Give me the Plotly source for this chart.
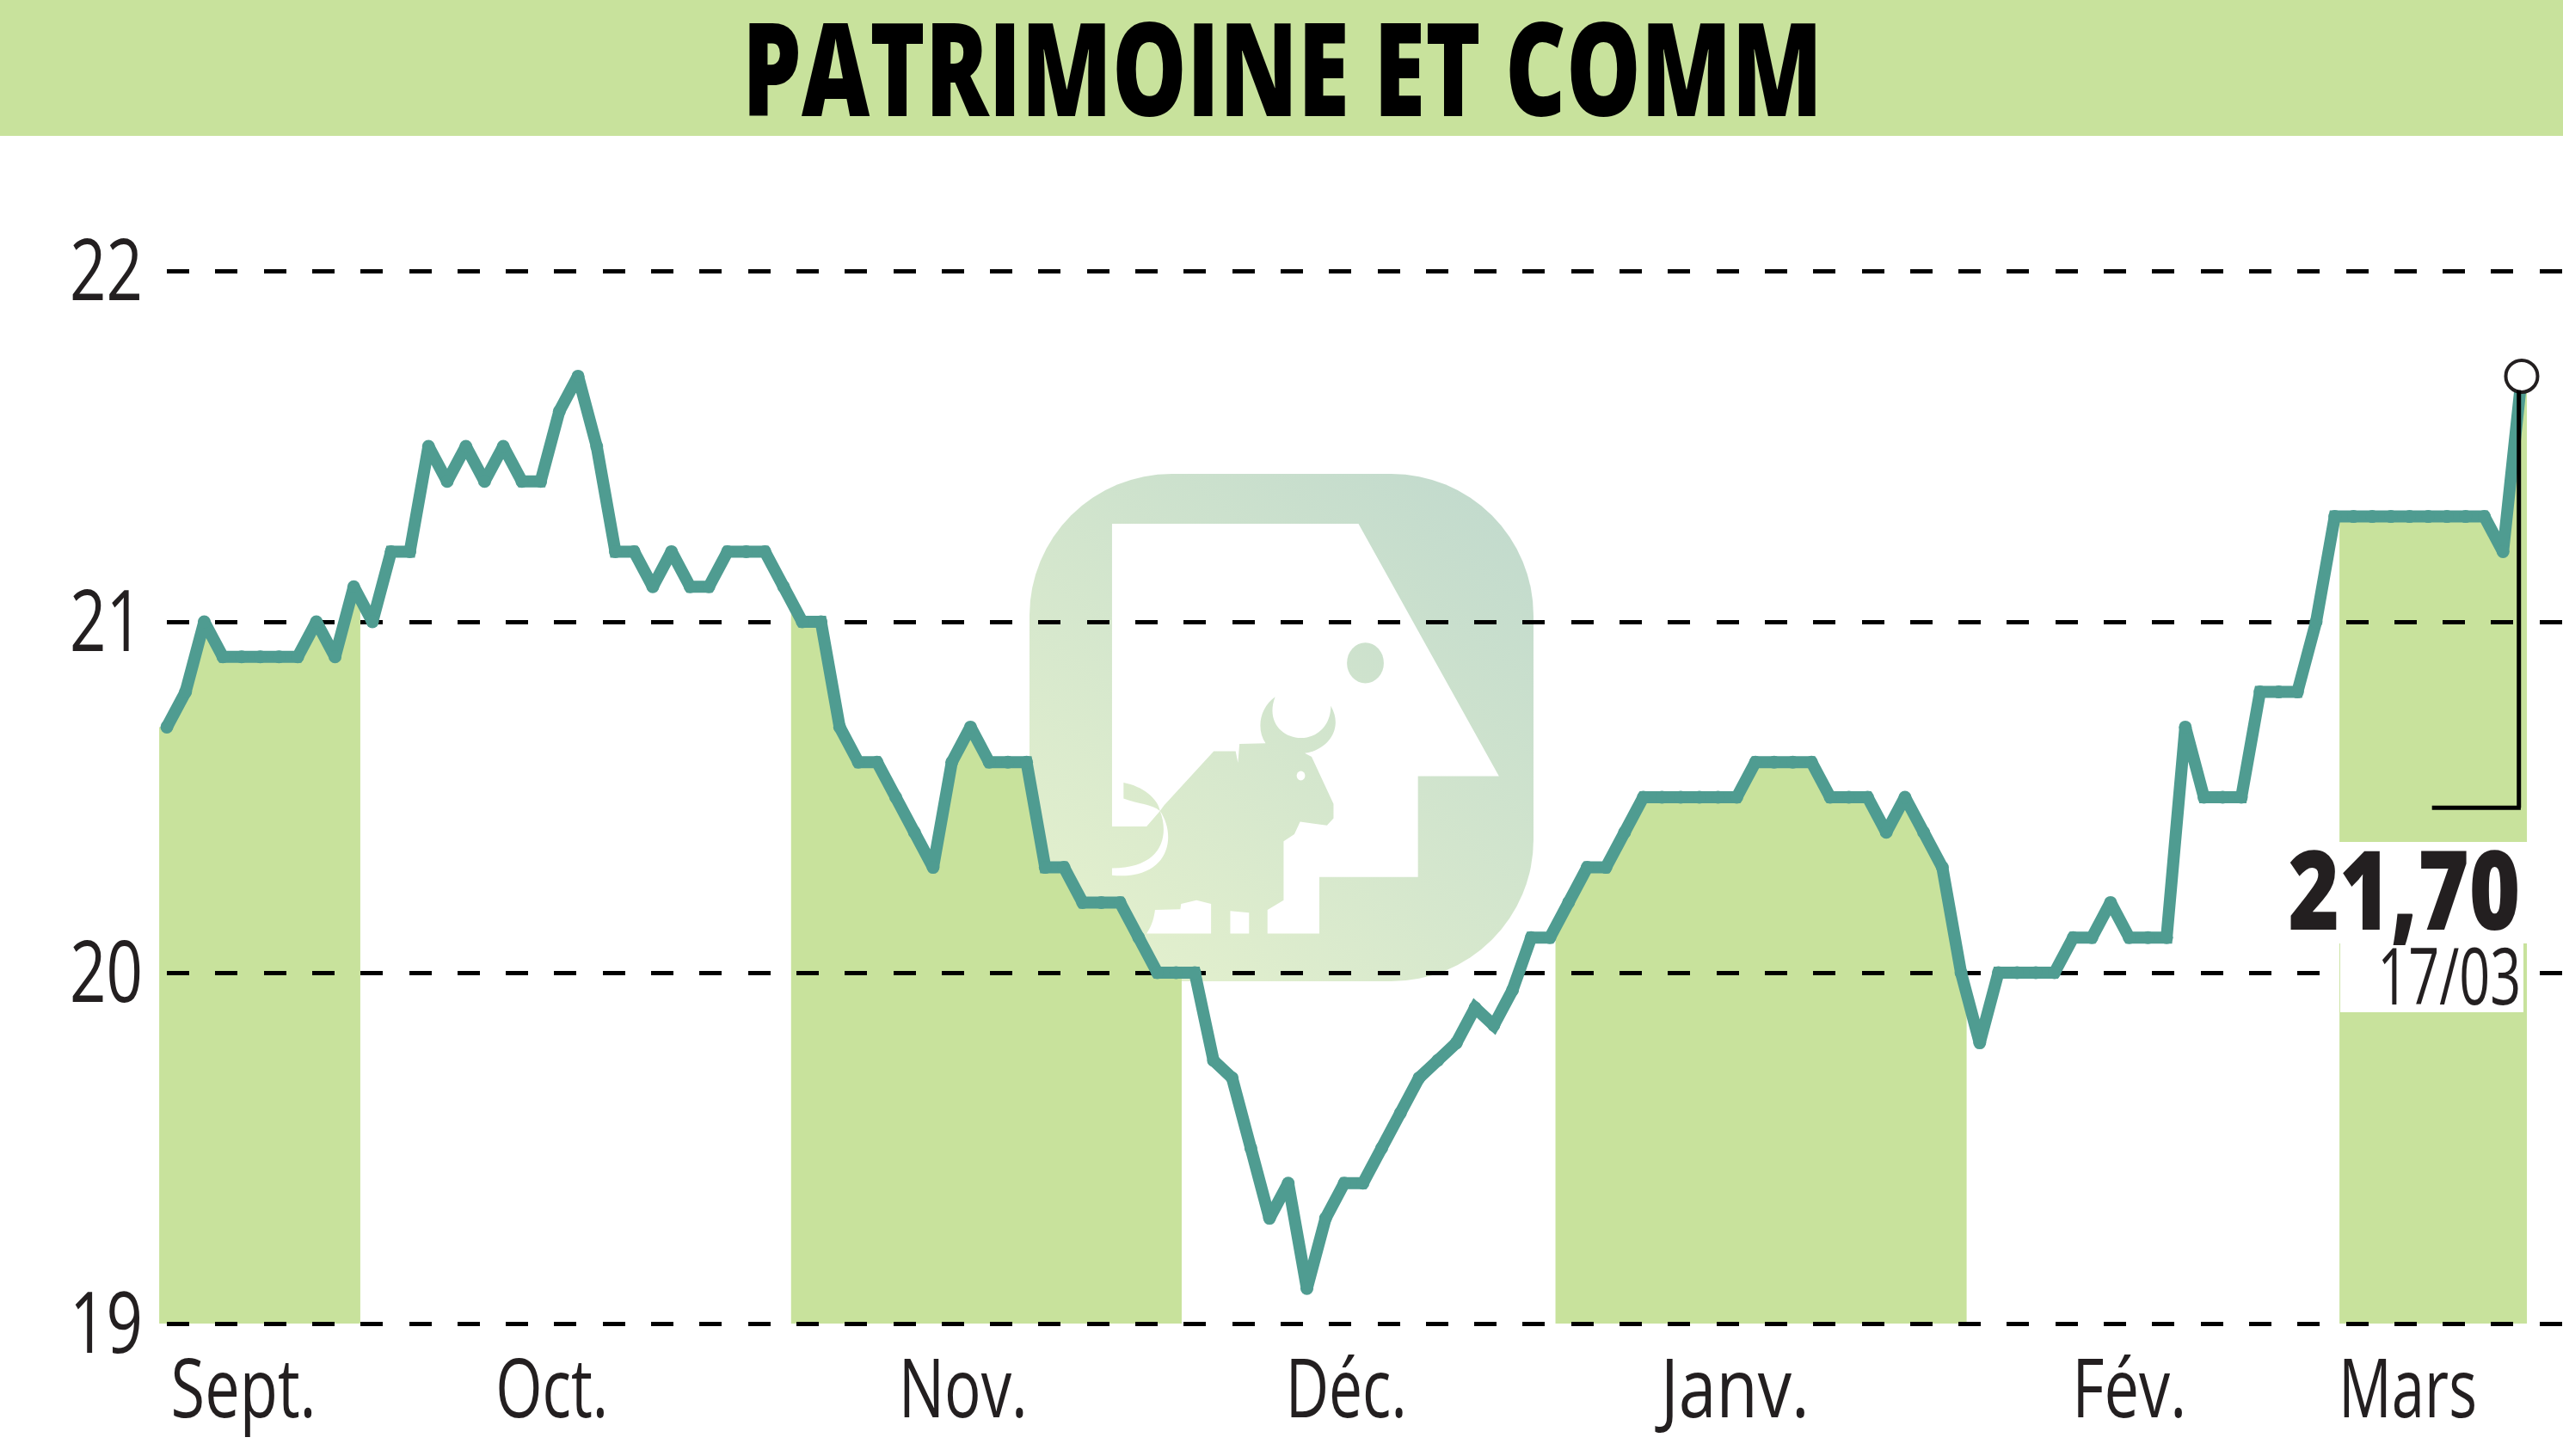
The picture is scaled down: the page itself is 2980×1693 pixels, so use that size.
import base64
import json
import numpy as np
import plotly.graph_objects as go

TITLE = "PATRIMOINE ET COMM"
PRICES = [20.7,20.8,21.0,20.9,20.9,20.9,20.9,20.9,21.0,20.9,21.1,21.0,21.2,21.2,21.5,21.4,21.5,21.4,21.5,21.4,
          21.4,21.6,21.7,21.5,21.2,21.2,21.1,21.2,21.1,21.1,21.2,21.2,21.2,21.1,21.0,21.0,20.7,20.6,20.6,20.5,
          20.4,20.3,20.6,20.7,20.6,20.6,20.6,20.3,20.3,20.2,20.2,20.2,20.1,20.0,20.0,20.0,19.75,19.7,19.5,19.3,
          19.4,19.1,19.3,19.4,19.4,19.5,19.6,19.7,19.75,19.8,19.9,19.85,19.95,20.1,20.1,20.2,20.3,20.3,20.4,20.5,
          20.5,20.5,20.5,20.5,20.5,20.6,20.6,20.6,20.6,20.5,20.5,20.5,20.4,20.5,20.4,20.3,20.0,19.8,20.0,20.0,
          20.0,20.0,20.1,20.1,20.2,20.1,20.1,20.1,20.7,20.5,20.5,20.5,20.8,20.8,20.8,21.0,21.3,21.3,21.3,21.3,
          21.3,21.3,21.3,21.3,21.3,21.2,21.7]
MONTHS = ["Sept.", "Oct.", "Nov.", "Déc.", "Janv.", "Fév.", "Mars"]
MONTH_POS = [4.1, 20.6, 42.6, 63.1, 83.9, 105.0, 119.9]
BANDS = [(-0.41, 10.35), (33.4, 54.3), (74.3, 96.3), (116.25, 126.28)]
Y_TICKS = [19, 20, 21, 22]
LAST_VALUE = "21,70"
LAST_DATE = "17/03"

# widths the condensed labels occupy in the reference
TEXT_WIDTHS = {TITLE: 1256, "Sept.": 169, "Oct.": 131, "Nov.": 150, "Déc.": 141, "Janv.": 173, "Fév.": 133,
               "Mars": 161, "19": 85, "20": 85, "21": 85, "22": 85, LAST_VALUE: 270, LAST_DATE: 167}

GREEN = "#c8e29c"
TEAL = "#4f9c91"
FONT = "Open Sans"
INK = "#231f20"

W, H = 2980, 1693
PL, PB = 185, 133           # plot area margins in px
DX = 21.73
X0PX = 194
plot_w, plot_h = W - PL, H - PB
xs = list(range(len(PRICES)))
x_range = [(PL - X0PX) / DX, (W - X0PX) / DX]
y_range = [22 + 315 / 408 - plot_h / 408, 22 + 315 / 408]


def px_x(p):
    return (p - PL) / plot_w


def px_y(p):
    return 1 - p / plot_h


def logo_uri():
    svg = f'''<svg xmlns="http://www.w3.org/2000/svg" width="586" height="590" viewBox="105 75 1313 1422" preserveAspectRatio="none">
<defs><linearGradient id="g" gradientUnits="userSpaceOnUse" x1="250" y1="1400" x2="1300" y2="180">
<stop offset="0" stop-color="#e3f0cd"/><stop offset="1" stop-color="#c3dbcd"/></linearGradient></defs>
<rect x="105" y="75" width="1313" height="1422" rx="370" ry="397" fill="url(#g)"/>
<path fill="#fff" d="M320 215 L962 215 L1328 922 L1117 922 L1117 1205 L860 1205 L860 1363 L725 1363 L725 1297 L767 1270 L767 1105
 L795 1085 L810 1050 L880 1060 L897 1040 L897 1000 L840 868 L822 858 C880 850 925 790 890 725 C890 780 855 815 812 815
 C765 815 720 770 745 700 C705 730 695 790 720 830 L652 832 L648 885 L642 852 L585 852 L455 1005 L445 1020 L410 1063 L320 1063 Z"/>
<path fill="url(#g)" d="M350 940 C400 950 440 985 445 1020 C425 1000 385 1000 350 985 Z"/>
<path fill="#fff" d="M445 1020 C470 1090 450 1180 320 1180 L320 1200 C470 1215 490 1090 445 1020 Z"/>
<ellipse cx="980" cy="605" rx="48" ry="57" fill="url(#g)"/>
<ellipse cx="812" cy="921" rx="11" ry="13" fill="#fff"/>
<path fill="#fff" d="M410 1363 C425 1340 430 1315 432 1297 L498 1295 L500 1280 L540 1270 L578 1280 L578 1363 Z"/>
<path fill="#fff" d="M628 1300 L677 1305 L677 1363 L628 1363 Z"/>
</svg>'''
    return "data:image/svg+xml;base64," + base64.b64encode(svg.encode()).decode()


def band_path(lo, hi):
    inner = [i for i in xs if lo < i < hi]
    bx = [lo] + inner + [hi]
    by = list(np.interp(bx, xs, PRICES))
    pts = [(lo, 19)] + list(zip(bx, by)) + [(hi, 19)]
    return "M" + " L".join(f"{a},{b}" for a, b in pts) + " Z"


shapes = [dict(type="rect", xref="paper", yref="paper", x0=px_x(0), x1=px_x(W), y0=px_y(158), y1=px_y(0),
               fillcolor=GREEN, line_width=0, layer="below")]
for lo, hi in BANDS:
    shapes.append(dict(type="path", path=band_path(lo, hi), xref="x", yref="y",
                       fillcolor=GREEN, line_width=0, layer="below"))
# white boxes behind the last-value labels
shapes.append(dict(type="rect", xref="paper", yref="paper", x0=px_x(2655), x1=px_x(2942), y0=px_y(1097), y1=px_y(979),
                   fillcolor="white", line_width=0, layer="above"))
shapes.append(dict(type="rect", xref="paper", yref="paper", x0=px_x(2721), x1=px_x(2934), y0=px_y(1177), y1=px_y(1097),
                   fillcolor="white", line_width=0, layer="above"))
# leader from last point to its label
shapes.append(dict(type="line", xref="x", yref="y", x0=125.85, x1=125.85, y0=21.66, y1=20.47,
                   line=dict(color="black", width=5), layer="above"))
shapes.append(dict(type="line", xref="x", yref="y", x0=121.2, x1=125.95, y0=20.47, y1=20.47,
                   line=dict(color="black", width=5), layer="above"))

fig = go.Figure()
fig.add_trace(go.Scatter(x=xs, y=PRICES, mode="lines+markers", line=dict(color=TEAL, width=14),
                         marker=dict(color=TEAL, size=15, symbol="circle"), hoverinfo="skip", cliponaxis=False))
fig.add_trace(go.Scatter(x=[xs[-1]], y=[PRICES[-1]], mode="markers",
                         marker=dict(color="white", size=37, line=dict(color=INK, width=4)),
                         hoverinfo="skip", cliponaxis=False))

fig.update_layout(
    width=W, height=H, margin=dict(l=PL, r=0, t=0, b=PB), showlegend=False,
    paper_bgcolor="white", plot_bgcolor="rgba(0,0,0,0)",
    title=dict(text=TITLE, x=1491 / W, xanchor="center", y=1 - 82 / H, yanchor="middle",
               font=dict(family=FONT, size=151, color="black", weight=800)),
    shapes=shapes,
    images=[dict(source=logo_uri(), xref="paper", yref="paper", x=px_x(1197), y=px_y(551),
                 sizex=586 / plot_w, sizey=590 / plot_h, xanchor="left", yanchor="top",
                 sizing="stretch", layer="below")],
    annotations=[
        dict(text=LAST_VALUE, xref="paper", yref="paper", x=px_x(2795), y=px_y(1031), xanchor="center",
             yanchor="middle", showarrow=False, font=dict(family=FONT, size=127, color=INK, weight=800)),
        dict(text=LAST_DATE, xref="paper", yref="paper", x=px_x(2848), y=px_y(1133), xanchor="center",
             yanchor="middle", showarrow=False, font=dict(family=FONT, size=91, color=INK)),
    ],
    xaxis=dict(range=x_range, showgrid=False, zeroline=False, showline=False, tickmode="array",
               tickvals=MONTH_POS, ticktext=MONTHS, ticks="", ticklabelstandoff=-8,
               tickfont=dict(family=FONT, size=95, color=INK)),
    yaxis=dict(range=y_range, showgrid=True, gridcolor="black", gridwidth=5,
               griddash="0px,9px,26px,21.3px", zeroline=False, showline=False, tickmode="array",
               tickvals=Y_TICKS, ticktext=[str(v) for v in Y_TICKS], ticks="", ticklabelstandoff=18,
               tickfont=dict(family=FONT, size=98, color=INK)),
)

condense = """
document.body.style.margin = '0';
var widths = %s;
document.querySelectorAll('svg text').forEach(function (t) {
  var w = widths[t.textContent];
  if (w) { t.setAttribute('textLength', w); t.setAttribute('lengthAdjust', 'spacingAndGlyphs'); }
});
""" % json.dumps(TEXT_WIDTHS, ensure_ascii=False)

fig.write_html("out.html", config=dict(displayModeBar=False), post_script=condense)
